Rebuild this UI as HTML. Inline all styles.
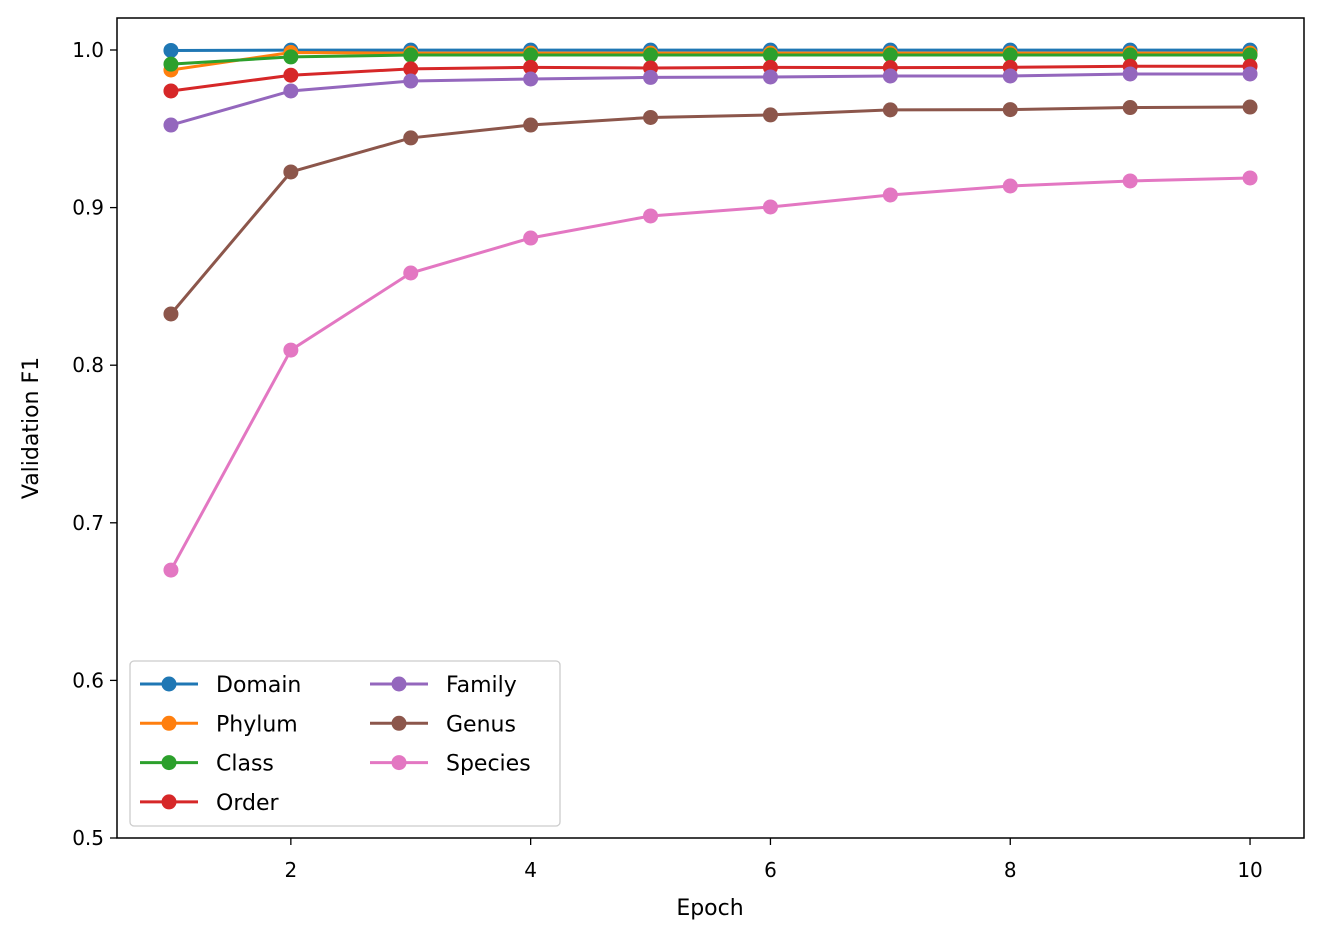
<!DOCTYPE html>
<html><head><meta charset="utf-8"><style>
body{margin:0;background:#fff;font-family:"Liberation Sans","DejaVu Sans",sans-serif}
svg text{font-family:"DejaVu Sans","Liberation Sans",sans-serif}
</style></head><body>
<svg id="chart" width="1324" height="940" xmlns="http://www.w3.org/2000/svg">
<rect width="1324" height="940" fill="#fff"/>
<g id="series"></g>
<rect x="117" y="18" width="1187" height="820" fill="none" stroke="#000" stroke-width="1.5"/>
<g id="axes"></g>
<text x="710" y="915" font-size="22" text-anchor="middle">Epoch</text>
<text transform="translate(38,428) rotate(-90)" font-size="22" text-anchor="middle">Validation F1</text>
<g id="legend"></g>
</svg>
<script>
const epochs=[1,2,3,4,5,6,7,8,9,10];
const seriesNames=["Domain","Phylum","Class","Order","Family","Genus","Species"];
const colors=["#1f77b4","#ff7f0e","#2ca02c","#d62728","#9467bd","#8c564b","#e377c2"];
const domain=[0.9997,0.9999,0.9999,0.9999,0.9999,0.9999,0.9999,0.9999,0.9999,0.9999];
const phylum=[0.9873,0.9984,0.998,0.998,0.998,0.998,0.998,0.998,0.998,0.998];
const classV=[0.991,0.9956,0.9968,0.9968,0.9968,0.9968,0.9968,0.9968,0.9968,0.9968];
const order=[0.974,0.984,0.988,0.989,0.9886,0.989,0.9888,0.989,0.9897,0.9897];
const family=[0.9524,0.974,0.9803,0.9816,0.9826,0.9829,0.9835,0.9835,0.9848,0.9848];
const genus=[0.8325,0.9226,0.9442,0.9524,0.9572,0.9588,0.962,0.9622,0.9635,0.9638];
const species=[0.67,0.8096,0.8585,0.8807,0.8947,0.9004,0.908,0.9137,0.9169,0.9188];
const xTicks=[2,4,6,8,10];
const yTicks=[0.5,0.6,0.7,0.8,0.9,1.0];
const yTickLabels=["0.5","0.6","0.7","0.8","0.9","1.0"];
const allData=[domain,phylum,classV,order,family,genus,species];
const NS="http://www.w3.org/2000/svg";
const X0=117,X1=1304,Y0=18,Y1=838,xmin=0.55,xmax=10.45,ymin=0.5,ymax=1.0203;
const xs=v=>X0+(v-xmin)/(xmax-xmin)*(X1-X0);
const ys=v=>Y1-(v-ymin)/(ymax-ymin)*(Y1-Y0);
function mk(t,a,p){const e=document.createElementNS(NS,t);for(const k in a)e.setAttribute(k,a[k]);p.appendChild(e);return e;}
const sg=document.getElementById('series');
allData.forEach((d,i)=>{
  const g=mk('g',{},sg);
  
  
  const pl=mk('polyline',{points:d.map((v,j)=>xs(epochs[j])+','+ys(v)).join(' '),fill:'none',stroke:colors[i],'stroke-width':3},g);
  
  
  d.forEach((v,j)=>{const c=mk('circle',{cx:xs(epochs[j]),cy:ys(v),r:7.5,fill:colors[i]},g);
    
    });
});
const ag=document.getElementById('axes');
xTicks.forEach(t=>{const x=xs(t);
  const l=mk('line',{x1:x,x2:x,y1:838,y2:845,stroke:'#000','stroke-width':1.3},ag);
  
  const tx=mk('text',{x:x,y:877,'font-size':20,'text-anchor':'middle'},ag);tx.textContent=t;
  });
yTicks.forEach((t,i)=>{const y=ys(t);
  const l=mk('line',{x1:110,x2:117,y1:y,y2:y,stroke:'#000','stroke-width':1.3},ag);
  
  const tx=mk('text',{x:104,y:y+7,'font-size':20,'text-anchor':'end'},ag);tx.textContent=yTickLabels[i];
  });
const lg=document.getElementById('legend');

mk('rect',{x:130,y:661,width:430,height:165,rx:4,fill:'#fff','fill-opacity':0.8,stroke:'#ccc','stroke-width':1.3},lg);
seriesNames.forEach((n,i)=>{const col=i<4?0:1,row=i<4?i:i-4;
  const x=140+col*230,y=684+row*39.3;
  const g=mk('g',{},lg);
  
  
  mk('line',{x1:x,x2:x+58,y1:y,y2:y,stroke:colors[i],'stroke-width':3},g);
  mk('circle',{cx:x+29,cy:y,r:7.5,fill:colors[i]},g);
  const t=mk('text',{x:x+76,y:y+8,'font-size':22},g);t.textContent=n;});
</script>
</body></html>
